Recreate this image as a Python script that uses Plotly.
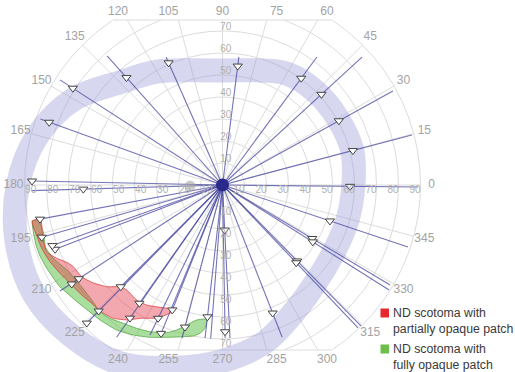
import numpy as np
import plotly.graph_objects as go

# ---------------- data (degrees of visual field) ----------------
grid_radii = [10, 20, 30, 40, 50, 60, 70, 80, 90]
spoke_angles = list(range(0, 360, 15))
angle_labels = [str(a) for a in spoke_angles]
h_tick_vals = [10, 20, 30, 40, 50, 60, 70, 80, 90]
v_tick_vals = [10, 20, 30, 40, 50, 60, 70]

# normal isopter band (angle -> eccentricity)
band_angles = [0, 15, 30, 45, 60, 75, 90, 105, 120, 135, 150, 165,
               180, 195, 210, 225, 240, 255, 270, 285, 300, 315, 330, 345]
band_r = [59.5, 61, 60.5, 60, 58.5, 54, 52, 54, 59.5, 66, 78, 87,
          93, 97, 99, 97, 93.5, 86, 80, 74, 66, 61, 59, 59]

# kinetic vectors (meridian angle, end eccentricity)
line_angles = [131.8, 147.1, 160.1, 178.8, 181.7, 113.8, 82.7, 53.6, 42.5, 28.9,
               14.8, 359.4, 341.5, 329.2, 327.8, 314.5, 313.5, 291.4, 272.8, 271,
               265.6, 263.5, 255.2, 248.1, 247.5, 244.2, 235.2, 234.9, 225.5, 225,
               213.1, 201, 199.6, 196.1, 190.6]
line_end_r = [78.7, 88, 88, 86.6, 86.8, 63.6, 58.7, 72.3, 86, 88.5,
              89, 88.9, 88.9, 88.7, 89.5, 89.8, 89.5, 74.2, 69.6, 69.5,
              70, 70, 72, 61.2, 73, 75.7, 84.3, 65.7, 88.1, 65.4,
              88.2, 81.5, 82.1, 85.5, 84.4]

# response points (triangles)
tri_angles = [131.8, 147.1, 160.1, 178.8, 181.7, 113.8, 82.7, 53.6, 42.5, 28.9,
              14.8, 359.4, 341.5, 329.2, 327.8, 314.5, 313.5, 291.4, 272.8, 271,
              263.5, 255.2, 248.1, 247.5, 244.2, 235.2, 234.9, 225.5, 225.5, 225,
              213.1, 213.3, 201, 199.6, 196.1, 190.6]
tri_r = [65.5, 81, 83.8, 86.6, 63.3, 60.7, 54.5, 60.3, 61, 60.4,
         61.3, 58, 51.5, 47.5, 48.5, 48.4, 48.7, 62.5, 20.5, 66.7,
         60.3, 66.8, 61.2, 73, 67.3, 73.7, 65.7, 88, 80.3, 65.4,
         78, 82, 81.5, 82.1, 85.5, 84.4]

blind_spot_angle = 181.8
blind_spot_r = 14.8

# scotoma with partially opaque patch (x, y in degrees)
red_x = [-86.45, -82.64, -81.73, -79.91, -75.36, -70.82, -67.82, -64.0, -59.45, -52.64,
         -46.59, -43.55, -39.0, -34.45, -28.41, -23.09, -22.95, -29.77, -37.5, -42.82,
         -49.64, -55.68, -59.45, -64.0, -69.32, -73.86, -78.41, -82.18, -84.55, -86.14]
red_y = [-16.36, -15.45, -24.09, -30.32, -33.32, -35.14, -37.14, -41.68, -44.23, -46.23,
         -46.23, -47.73, -52.27, -54.55, -55.59, -56.5, -57.73, -60.45, -60.59, -61.36,
         -60.59, -57.27, -53.77, -50.0, -44.68, -40.14, -34.86, -28.77, -22.73, -18.64]

# scotoma with fully opaque patch
green_x = [-86.45, -86.0, -84.77, -82.95, -80.23, -76.91, -73.86, -70.68, -66.59, -63.27,
           -55.68, -48.09, -40.55, -32.95, -25.36, -13.27, -10.23, -7.95, -7.18,
           -11.73, -16.27, -20.82, -25.36, -32.95, -39.0, -45.09, -51.14, -55.68, -59.45,
           -62.5, -66.59, -70.68, -77.05, -80.45, -81.45, -83.86]
green_y = [-16.36, -21.23, -27.27, -32.27, -37.27, -42.27, -46.36, -49.09, -52.73, -55.32,
           -61.36, -65.91, -68.18, -69.23, -69.23, -68.64, -67.41, -65.14, -61.05,
           -61.36, -63.64, -65.91, -67.14, -66.68, -65.14, -62.86, -60.59, -57.5, -52.27,
           -48.18, -43.18, -38.64, -33.18, -28.18, -21.36, -15.91]

legend_names = ["ND scotoma with<br>partially opaque patch",
                "ND scotoma with<br>fully opaque patch"]

# ---------------- helpers ----------------
Y_CLIP = 75.0
SCALE = 2.2          # px per degree
CX, CY = 222.5, 185  # pixel position of fixation
W, H = 515, 372


def pol(a, r):
    t = np.radians(np.asarray(a, dtype=float))
    r = np.asarray(r, dtype=float)
    return r * np.cos(t), r * np.sin(t)


FONT = "Liberation Sans, Arial, Helvetica, sans-serif"
GRID = "#dcdcdc"
fig = go.Figure()

# grid circles, clipped top and bottom
for rr in grid_radii:
    t = np.linspace(0, 360, 1441)
    x, y = pol(t, np.full_like(t, rr))
    x = np.where(np.abs(y) > Y_CLIP, np.nan, x)
    y = np.where(np.abs(y) > Y_CLIP, np.nan, y)
    fig.add_trace(go.Scatter(x=x, y=y, mode="lines", line=dict(color=GRID, width=1),
                             hoverinfo="skip", showlegend=False))
xe = np.sqrt(max(grid_radii) ** 2 - Y_CLIP ** 2)
fig.add_trace(go.Scatter(x=[-xe, xe, None, -xe, xe], y=[Y_CLIP, Y_CLIP, None, -Y_CLIP, -Y_CLIP],
                         mode="lines", line=dict(color=GRID, width=1), hoverinfo="skip",
                         showlegend=False))
# spokes
sx, sy = [], []
for a in spoke_angles:
    s = abs(np.sin(np.radians(a)))
    rmax = max(grid_radii) if s < 1e-9 else min(max(grid_radii), Y_CLIP / s)
    ex, ey = pol(a, rmax)
    sx += [0, float(ex), None]
    sy += [0, float(ey), None]
fig.add_trace(go.Scatter(x=sx, y=sy, mode="lines", line=dict(color=GRID, width=1),
                         hoverinfo="skip", showlegend=False))

# isopter band
bx, by = pol(band_angles + [band_angles[0]], band_r + [band_r[0]])
fig.add_trace(go.Scatter(x=bx, y=by, mode="lines",
                         line=dict(color="rgba(150,150,212,0.38)", width=24, shape="spline",
                                   smoothing=1.0),
                         hoverinfo="skip", showlegend=False))

# scotoma patches
fig.add_trace(go.Scatter(x=green_x + [green_x[0]], y=green_y + [green_y[0]], mode="lines",
                         fill="toself", fillcolor="rgba(100,195,80,0.55)",
                         line=dict(color="rgba(80,160,60,0.9)", width=0.8, shape="spline",
                                   smoothing=0.5),
                         name="fully opaque", showlegend=False, hoverinfo="skip"))
fig.add_trace(go.Scatter(x=red_x + [red_x[0]], y=red_y + [red_y[0]], mode="lines",
                         fill="toself", fillcolor="rgba(228,60,75,0.45)",
                         line=dict(color="rgba(220,50,50,0.9)", width=0.8, shape="spline",
                                   smoothing=0.5),
                         name="partially opaque", showlegend=False, hoverinfo="skip"))

# vectors
lx, ly = [], []
ex, ey = pol(line_angles, line_end_r)
for x1, y1 in zip(ex, ey):
    lx += [0, float(x1), None]
    ly += [0, float(y1), None]
fig.add_trace(go.Scatter(x=lx, y=ly, mode="lines",
                         line=dict(color="rgba(70,70,160,0.75)", width=1.1),
                         hoverinfo="skip", showlegend=False))

# triangles
tx, ty = pol(tri_angles, tri_r)
fig.add_trace(go.Scatter(x=tx, y=ty, mode="markers",
                         marker=dict(symbol="triangle-down", size=8, color="white",
                                     line=dict(color="#444", width=1)),
                         hoverinfo="skip", showlegend=False))

# blind spot and fixation
bsx, bsy = pol([blind_spot_angle], [blind_spot_r])
fig.add_trace(go.Scatter(x=bsx, y=bsy, mode="markers",
                         marker=dict(size=11, color="rgba(160,160,160,0.55)"),
                         hoverinfo="skip", showlegend=False))
fig.add_trace(go.Scatter(x=[0], y=[0], mode="markers",
                         marker=dict(size=13, color="#2a2a8c"),
                         hoverinfo="skip", showlegend=False))

# angle labels
LAB_R = 95
top_lim = (CY - 12) / SCALE
bot_lim = -(360 - CY) / SCALE
alx, aly = pol(spoke_angles, [LAB_R] * len(spoke_angles))
aly = np.clip(aly, bot_lim, top_lim)
fig.add_trace(go.Scatter(x=alx, y=aly, mode="text", text=angle_labels,
                         textfont=dict(family=FONT, size=12, color="#a3a3a3"),
                         hoverinfo="skip", showlegend=False, cliponaxis=False))

# radial tick labels
hx = [v - 2.5 for v in h_tick_vals] + [-(v - 2.8) for v in h_tick_vals]
hy = [-2.4] * (2 * len(h_tick_vals))
ht = [str(v) for v in h_tick_vals] * 2
vx = [1.5] * (2 * len(v_tick_vals))
vy = [v + 1.6 for v in v_tick_vals] + [-(v + 2.6) for v in v_tick_vals]
vt = [str(v) for v in v_tick_vals] * 2
fig.add_trace(go.Scatter(x=hx + vx, y=hy + vy, mode="text", text=ht + vt,
                         textfont=dict(family=FONT, size=10, color="#b0b0b0"),
                         hoverinfo="skip", showlegend=False))

# legend (swatches + text)
sw_colors = ["#e8262d", "#6cbf4a"]
sw_tops = [308.5, 344.5]
txt_mid = [321, 356.5]
for name, col, top, mid in zip(legend_names, sw_colors, sw_tops, txt_mid):
    fig.add_shape(type="rect", xref="paper", yref="paper",
                  x0=380.5 / W, x1=389 / W, y0=1 - (top + 9) / H, y1=1 - top / H,
                  fillcolor=col, line=dict(width=0))
    fig.add_annotation(xref="paper", yref="paper", x=391 / W, y=1 - mid / H,
                       xanchor="left", yanchor="middle", align="left", showarrow=False,
                       text=name, font=dict(family=FONT, size=12.3, color="#3a3a3a"))

fig.update_xaxes(range=[-CX / SCALE, (W - CX) / SCALE], visible=False, fixedrange=True)
fig.update_yaxes(range=[-(H - CY) / SCALE, CY / SCALE], visible=False, fixedrange=True)
fig.update_layout(width=W, height=H, margin=dict(l=0, r=0, t=0, b=0),
                  plot_bgcolor="white", paper_bgcolor="white", showlegend=False)

fig.write_html("out.html", config={"displayModeBar": False},
               post_script="document.body.style.margin='0';"
                           "document.body.style.overflow='hidden';")
